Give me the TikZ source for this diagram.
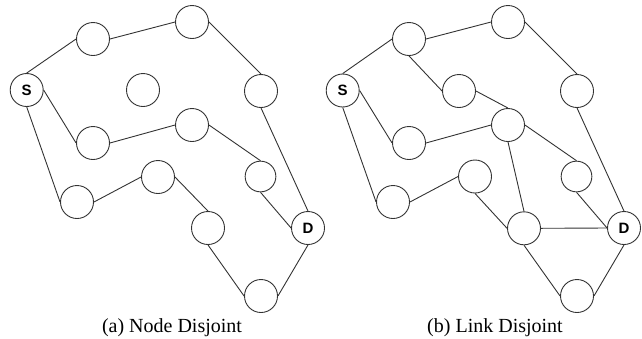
\documentclass[tikz,border=0pt]{standalone}
\usepackage{fontspec}
\setmainfont{Liberation Serif}
\newfontfamily\labelfont{Liberation Sans}
\tikzset{
  vtx/.style={circle,draw=black!80,line width=0.9bp,minimum size=33bp,inner sep=0pt,fill=white},
  smallvtx/.style={vtx,minimum size=30.7bp},
  term/.style={vtx,font=\labelfont\bfseries\fontsize{15bp}{18bp}\selectfont},
  edge/.style={draw=black!80,line width=0.9bp},
  captext/.style={anchor=base,font=\fontsize{20bp}{24bp}\selectfont,inner sep=0pt}
}
\begin{document}
\begin{tikzpicture}[x=1bp,y=-1bp]
\useasboundingbox (0,0) rectangle (642,338);
% ---------- (a) Node Disjoint ----------
\node[term] (aS) at (26.7,90) {S};
\node[vtx] (aA1) at (93,39) {};
\node[vtx] (aA2) at (192,22) {};
\node[vtx] (aA3) at (261,91) {};
\node[vtx] (aL) at (143,90) {};
\node[vtx] (aB1) at (93,143) {};
\node[vtx] (aB2) at (192,125) {};
\node[smallvtx] (aB3) at (260.5,176.5) {};
\node[vtx] (aC1) at (77,202) {};
\node[vtx] (aC2) at (158,177) {};
\node[vtx] (aC3) at (208,228) {};
\node[term] (aD) at (308,228) {D};
\node[vtx] (aE) at (261,296) {};
\path[edge] (aS.north) -- (aA1.west);
\path[edge] (aA1.east) -- (aA2.west);
\path[edge] (aA2.east) -- (aA3.north);
\path[edge] (aA3.south) -- (aD.north);
\path[edge] (aS.east) -- (aB1.west);
\path[edge] (aB1.east) -- (aB2.west);
\path[edge] (aB2.east) -- (aB3.north);
\path[edge] (aB3.south) -- (aD.west);
\path[edge] (aS.south) -- (aC1.west);
\path[edge] (aC1.east) -- (aC2.west);
\path[edge] (aC2.east) -- (aC3.north);
\path[edge] (aC3.south) -- (aE.west);
\path[edge] (aE.east) -- (aD.south);
\node[captext] (capa) at (172,332) {(a) Node Disjoint};
% ---------- (b) Link Disjoint ----------
\node[term] (bS) at (342.7,90.5) {S};
\node[vtx] (bA1) at (409,39) {};
\node[vtx] (bA2) at (508,22) {};
\node[vtx] (bA3) at (577,91) {};
\node[vtx] (bM) at (459,91) {};
\node[vtx] (bB1) at (409,143) {};
\node[vtx] (bB2) at (508,125) {};
\node[smallvtx] (bB3) at (576.5,176.5) {};
\node[vtx] (bC1) at (393,202) {};
\node[vtx] (bC2) at (475,176.5) {};
\node[vtx] (bC3) at (524,228.3) {};
\node[term] (bD) at (624,228) {D};
\node[vtx] (bE) at (577,296) {};
\path[edge] (bS.north) -- (bA1.west);
\path[edge] (bA1.east) -- (bA2.west);
\path[edge] (bA2.east) -- (bA3.north);
\path[edge] (bA3.south) -- (bD.north);
\path[edge] (bA1.south) -- (bM.west);
\path[edge] (bM.east) -- (bB2.north);
\path[edge] (bS.east) -- (bB1.west);
\path[edge] (bB1.east) -- (bB2.west);
\path[edge] (bB2.east) -- (bB3.north);
\path[edge] (bB3.south) -- (bD.west);
\path[edge] (bB2.south) -- (bC3.north);
\path[edge] (bS.south) -- (bC1.west);
\path[edge] (bC1.east) -- (bC2.west);
\path[edge] (bC2.south) -- (bC3.west);
\path[edge] (bC3.east) -- (bD.west);
\path[edge] (bC3.south) -- (bE.west);
\path[edge] (bE.east) -- (bD.south);
\node[captext] (capb) at (495,332) {(b) Link Disjoint};
\end{tikzpicture}
\end{document}
